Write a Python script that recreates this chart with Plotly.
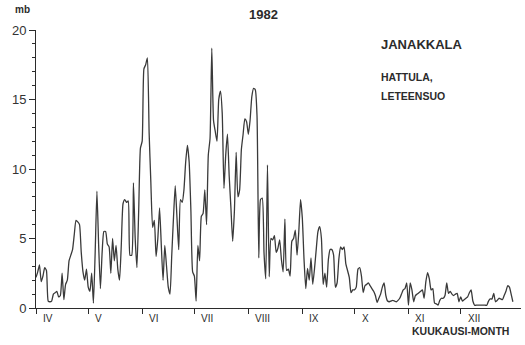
import pandas as pd
import plotly.graph_objects as go

# Daily values (mb), 1 April - 31 December 1982, one list per month
apr = [2.2, 2.6, 3.1, 1.9, 2.3, 2.9, 2.7, 0.5, 0.45, 0.5, 1.0, 1.1, 1.2, 0.8, 0.9,
       2.5, 0.6, 1.7, 2.0, 3.4, 3.8, 4.2, 5.3, 6.3, 6.2, 6.0, 4.0, 2.6, 2.0, 2.8]
may = [1.5, 1.2, 2.5, 0.35, 4.0, 8.4, 4.5, 1.4, 4.0, 5.5, 5.5, 4.6, 4.4, 2.5, 5.0,
       3.4, 4.5, 2.8, 2.0, 4.5, 7.5, 7.8, 7.6, 7.7, 3.8, 3.8, 9.0, 5.0, 2.9, 7.0, 11.5]
jun = [12.0, 17.2, 17.5, 18.0, 12.6, 9.0, 5.8, 6.3, 3.7, 5.0, 7.2, 4.5, 2.0, 4.5, 3.0,
       1.5, 1.0, 3.8, 6.5, 8.8, 6.5, 4.2, 7.8, 7.6, 8.5, 10.5, 11.7, 10.5, 7.0, 2.6]
jul = [2.3, 0.5, 4.5, 3.4, 6.6, 6.8, 8.5, 6.0, 11.0, 12.2, 18.7, 13.5, 12.7, 12.0, 15.0,
       15.6, 14.0, 8.6, 11.0, 12.5, 9.5, 7.2, 4.8, 7.0, 11.2, 8.0, 8.5, 11.4, 12.5, 13.6, 13.4]
aug = [12.5, 13.5, 15.2, 15.8, 15.7, 13.8, 3.6, 7.8, 7.9, 4.0, 2.1, 10.3, 2.25, 5.0, 4.9,
       5.2, 4.0, 4.3, 4.9, 3.5, 2.6, 6.4, 2.7, 2.8, 2.3, 4.8, 5.0, 5.6, 3.8, 5.5, 7.8]
sep = [6.5, 3.5, 1.4, 2.85, 2.0, 3.6, 1.7, 2.8, 4.2, 5.5, 5.85, 5.0, 1.7, 2.5, 1.5,
       3.5, 4.2, 4.2, 3.8, 1.5, 1.8, 3.5, 4.4, 4.2, 4.4, 3.2, 2.7, 2.2, 1.1, 1.3]
oct_ = [1.3, 1.5, 2.8, 2.9, 2.3, 1.1, 1.6, 1.7, 1.8, 1.6, 1.4, 1.2, 0.9, 0.4, 0.7,
        1.0, 1.5, 1.8, 0.9, 0.5, 0.45, 0.5, 0.55, 0.5, 0.45, 0.55, 0.7, 1.0, 1.3, 1.4, 1.8]
nov = [0.2, 1.8, 1.3, 0.45, 0.9, 1.0, 1.1, 1.2, 1.3, 0.7, 1.9, 2.55, 2.1, 1.3, 1.4,
       0.35, 0.3, 0.2, 0.55, 0.7, 0.7, 0.9, 1.8, 1.05, 1.2, 1.0, 0.9, 1.0, 1.05, 0.45]
dec = [0.8, 0.5, 0.6, 0.7, 0.8, 1.1, 1.3, 0.5, 0.2, 0.2, 0.2, 0.2, 0.2, 0.2, 0.2,
       0.2, 0.5, 0.65, 0.65, 1.05, 0.45, 0.55, 0.7, 0.65, 0.6, 0.9, 1.2, 1.6, 1.5, 1.0, 0.45]

month_labels = ["IV", "V", "VI", "VII", "VIII", "IX", "X", "XI", "XII"]
month_starts = pd.date_range("1982-04-01", "1982-12-01", freq="MS")
y_ticks = [0, 5, 10, 15, 20]

values = apr + may + jun + jul + aug + sep + oct_ + nov + dec
dates = pd.date_range("1982-04-01", periods=len(values), freq="D")

W, H = 525, 345
L, R, T, B = 36, 4, 30, 37
pw, ph = W - L - R, H - T - B


def px(x):
    return (x - L) / pw


def py(y):
    return (H - B - y) / ph


ink = "#2b2b2b"
font = "Liberation Sans"

fig = go.Figure(go.Scatter(
    x=dates, y=values, mode="lines",
    line=dict(color="#3a3a3a", width=1.3, shape="spline", smoothing=0.5),
    hoverinfo="skip",
))

fig.update_layout(
    width=W, height=H,
    margin=dict(l=L, r=R, t=T, b=B),
    paper_bgcolor="white", plot_bgcolor="white",
    showlegend=False,
    xaxis=dict(
        range=["1982-04-01", "1983-01-04 16:00"],
        tickvals=month_starts, showticklabels=False,
        ticks="outside", ticklen=5, tickcolor=ink, tickwidth=1,
        showline=True, linecolor=ink, linewidth=1,
        showgrid=False, zeroline=False,
    ),
    yaxis=dict(
        range=[0, 20], tickvals=y_ticks,
        ticks="outside", ticklen=6, tickcolor=ink, tickwidth=1,
        minor=dict(dtick=1, ticks="outside", ticklen=3, tickcolor=ink),
        showline=True, linecolor=ink, linewidth=1,
        showgrid=False, zeroline=False,
        tickfont=dict(family=font, size=13, color="#333"),
    ),
)

ann = []
for d, lab in zip(month_starts, month_labels):
    ann.append(dict(x=d, xref="x", y=py(318.5), yref="paper", text=lab,
                    xanchor="left", yanchor="middle", xshift=5, showarrow=False,
                    font=dict(family=font, size=10, color=ink)))

texts = [
    ("mb", 22, 9, "center", 10),
    ("1982", 263, 15, "center", 13),
    ("JANAKKALA", 379, 44, "left", 13),
    ("HATTULA,", 379, 77, "left", 10.5),
    ("LETEENSUO", 379, 96, "left", 10.5),
    ("KUUKAUSI-MONTH", 410, 331, "left", 10.5),
]
for t, x, y, anchor, size in texts:
    ann.append(dict(x=px(x), xref="paper", y=py(y), yref="paper",
                    text=f"<b>{t}</b>",
                    xanchor=anchor, yanchor="middle", showarrow=False,
                    font=dict(family=font, size=size, color=ink)))

fig.update_layout(annotations=ann)
fig.write_html("out.html")
